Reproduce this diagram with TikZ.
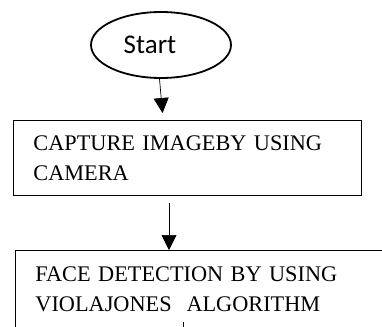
\documentclass[tikz,border=0pt]{standalone}
\usepackage{fontspec}
\setmainfont{Liberation Serif}
\newfontfamily\startfont{Carlito}
\usetikzlibrary{shapes.geometric,arrows.meta}

\tikzset{
  terminal/.style={draw, ellipse, line width=1.8pt, minimum width=140pt, minimum height=66pt, inner sep=0pt, font=\startfont\fontsize{27}{30}\selectfont},
  stepbox/.style={draw, rectangle, line width=0.8pt, anchor=north west, align=left, inner xsep=20pt, font=\fontsize{22.3}{30}\selectfont},
  flow/.style={line width=0.7pt, -{Triangle[width=15pt,length=15pt]}}
}

\begin{document}
\begin{tikzpicture}[x=1pt,y=1pt]
% marc de la figura
\useasboundingbox (0,0) rectangle (382,-326);
\clip (0,0) rectangle (382,-326);

\node[terminal] (start) at (161,-45) {Start\hspace*{22pt}};
\node[stepbox, text width=308pt, minimum height=75pt] (capture) at (13,-120) {CAPTURE IMAGEBY USING\\CAMERA};
\node[stepbox, text width=340pt, minimum height=78pt] (face) at (15,-250) {FACE DETECTION BY USING\\VIOLAJONES\ \ ALGORITHM};

% fletxes
\coordinate (a2) at (169,-203);
\coordinate (a3) at (183,-322);
\draw[flow] ([xshift=-1.5pt]start.south) -- ([xshift=1.5pt,yshift=7pt]start.south |- capture.north);
\draw[flow] (a2) -- (a2 |- face.north);
\draw[line width=0.7pt] (a3) -- ++(0,-20);

\end{tikzpicture}
\end{document}
